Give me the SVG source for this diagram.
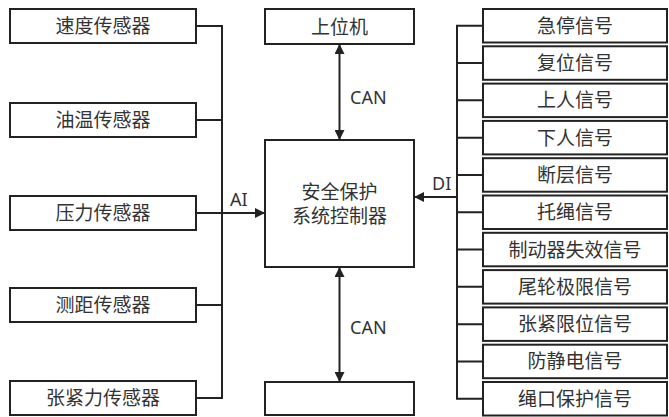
<svg xmlns="http://www.w3.org/2000/svg" width="669" height="417" viewBox="0 0 669 417">
<style>
.box{fill:#fff;stroke:#222;stroke-width:2}
.t{font-family:"Noto Sans CJK SC","Noto Sans",sans-serif;font-size:19px;fill:#333;text-anchor:middle}
.l{font-family:"Noto Sans","Open Sans",sans-serif;font-size:18px;fill:#333}
.ln{fill:none;stroke:#222;stroke-width:2}
</style>
<defs>
<marker id="ah" viewBox="0 0 10 10" refX="10" refY="5" markerWidth="10" markerHeight="10" markerUnits="userSpaceOnUse" orient="auto-start-reverse">
<path d="M0,0 L10,5 L0,10 z" fill="#222"/>
</marker>
</defs>
<rect width="669" height="417" fill="#fff"/>
<g id="connectors">
<path class="ln" d="M196,26 H222 V398 H196 M196,120 H222 M196,305 H222"/>
<path class="ln" d="M196,213 H265" marker-end="url(#ah)"/>
<path class="ln" d="M483,25.75 H457 V398.75 H483 M457,63.05 H483 M457,100.35 H483 M457,137.65 H483 M457,174.95 H483 M457,212.25 H483 M457,249.55 H483 M457,286.85 H483 M457,324.15 H483 M457,361.45 H483"/>
<path class="ln" d="M457,197 H414" marker-end="url(#ah)"/>
<path class="ln" d="M339.5,44 V140" marker-start="url(#ah)" marker-end="url(#ah)"/>
<path class="ln" d="M339.5,267 V382" marker-start="url(#ah)" marker-end="url(#ah)"/>
<text class="l" x="230" y="206">AI</text>
<text class="l" x="432" y="190">DI</text>
<text class="l" x="350" y="104">CAN</text>
<text class="l" x="350" y="334">CAN</text>
</g>
<g id="s1"><rect class="box" x="10" y="9" width="186" height="34"/><text class="t" x="103" y="33">速度传感器</text></g>
<g id="s2"><rect class="box" x="10" y="103" width="186" height="34"/><text class="t" x="103" y="127">油温传感器</text></g>
<g id="s3"><rect class="box" x="10" y="196" width="186" height="34"/><text class="t" x="103" y="220">压力传感器</text></g>
<g id="s4"><rect class="box" x="10" y="288" width="186" height="34"/><text class="t" x="103" y="312">测距传感器</text></g>
<g id="s5"><rect class="box" x="10" y="381" width="186" height="34"/><text class="t" x="103" y="405">张紧力传感器</text></g>
<g id="host"><rect class="box" x="265" y="9" width="149" height="35"/><text class="t" x="339.5" y="33.5">上位机</text></g>
<g id="ctrl"><rect class="box" x="265" y="140" width="149" height="127"/><text class="t" x="339.5" y="199">安全保护</text><text class="t" x="339.5" y="223">系统控制器</text></g>
<g id="bottom"><rect class="box" x="265" y="382" width="149" height="33"/></g>
<g id="d1"><rect class="box" x="483" y="9" width="184" height="33.5"/><text class="t" x="575" y="32.75">急停信号</text></g>
<g id="d2"><rect class="box" x="483" y="46.3" width="184" height="33.5"/><text class="t" x="575" y="70.05">复位信号</text></g>
<g id="d3"><rect class="box" x="483" y="83.6" width="184" height="33.5"/><text class="t" x="575" y="107.35">上人信号</text></g>
<g id="d4"><rect class="box" x="483" y="120.9" width="184" height="33.5"/><text class="t" x="575" y="144.65">下人信号</text></g>
<g id="d5"><rect class="box" x="483" y="158.2" width="184" height="33.5"/><text class="t" x="575" y="181.95">断层信号</text></g>
<g id="d6"><rect class="box" x="483" y="195.5" width="184" height="33.5"/><text class="t" x="575" y="219.25">托绳信号</text></g>
<g id="d7"><rect class="box" x="483" y="232.8" width="184" height="33.5"/><text class="t" x="575" y="256.55">制动器失效信号</text></g>
<g id="d8"><rect class="box" x="483" y="270.1" width="184" height="33.5"/><text class="t" x="575" y="293.85">尾轮极限信号</text></g>
<g id="d9"><rect class="box" x="483" y="307.4" width="184" height="33.5"/><text class="t" x="575" y="331.15">张紧限位信号</text></g>
<g id="d10"><rect class="box" x="483" y="344.7" width="184" height="33.5"/><text class="t" x="575" y="368.45">防静电信号</text></g>
<g id="d11"><rect class="box" x="483" y="382" width="184" height="33.5"/><text class="t" x="575" y="405.75">绳口保护信号</text></g>
</svg>
